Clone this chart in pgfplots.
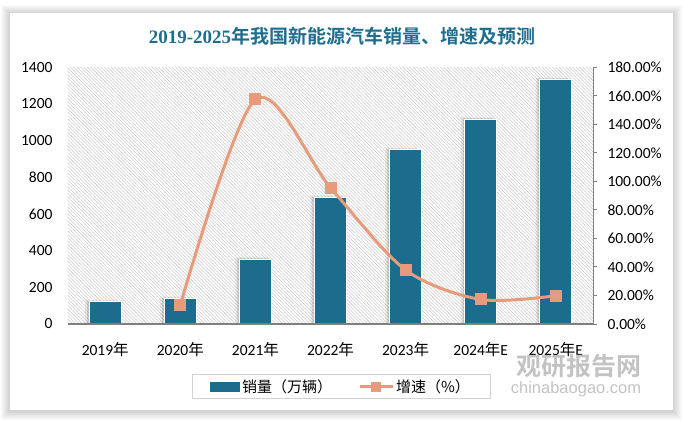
\documentclass[border=0pt]{standalone}
\usepackage{fontspec}
\setmainfont{Carlito}
\newfontfamily\cjk{Noto Sans CJK SC}[BoldFont={Noto Sans CJK SC Bold}]
\newfontfamily\titleserif{Liberation Serif}
\newfontfamily\wmfont{Liberation Sans}
\usepackage{pgfplots}
\pgfplotsset{compat=1.18}
\usetikzlibrary{patterns.meta}
\definecolor{barcol}{HTML}{1C6C8E}
\definecolor{linecol}{HTML}{E89B7A}
\definecolor{titlecol}{HTML}{1F6E8E}
\newcommand\nian{{\cjk 年}}
\begin{document}
\begin{tikzpicture}[x=1bp,y=1bp]
\fill[white] (0,0) rectangle (684,421);
\foreach \k in {1,...,9} {
  \fill[black, opacity=0.018] (10-\k, 11-\k-1) rectangle (672.7+\k, 408.3+\k-1);
}
\fill[white] (10,11) rectangle (672.7,408.3);
\node[titlecol] at (342,384.5) {\fontsize{19bp}{22bp}\selectfont\bfseries{\titleserif 2019-2025}{\cjk 年我国新能源汽车销量、增速及预测}};

\begin{axis}[
  at={(67.7bp,97bp)}, anchor=south west, scale only axis,
  width=525.6bp, height=256.7bp,
  xmin=-0.5, xmax=6.5, ymin=0, ymax=1400,
  ytick={0,200,...,1400},
  xtick={0,...,6},
  xticklabels={2019\nian,2020\nian,2021\nian,2022\nian,2023\nian,2024\nian E,2025\nian E},
  axis x line=bottom, axis y line=left,
  axis on top,
  x axis line style={draw=gray, line width=1.2bp, -},
  y axis line style={draw=none},
  major tick length=0pt, tick style={draw=none},
  /pgf/number format/1000 sep={},
  /pgf/number format/assume math mode=true,
  ticklabel style={font=\fontsize{15.5bp}{18bp}\selectfont, text=black},
  xticklabel style={anchor=center, yshift=-26bp},
  yticklabel style={anchor=east, inner sep=0pt, xshift=-15bp},
  axis background/.style={pattern={Lines[angle=-45,distance=2.4bp,line width=0.55bp]}, pattern color=gray!40},
  legend style={at={(0.52,-0.244)}, anchor=center, legend columns=2,
    draw=gray!35, line width=0.8bp, inner xsep=18bp, inner ysep=3bp,
    font=\cjk\fontsize{15bp}{18bp}\selectfont,
    /tikz/every even column/.append style={column sep=24bp}},
  legend cell align=left,
]
% soft shadows of the bars
\addplot[ybar, bar width=32.3bp, bar shift=-4bp, fill=black, fill opacity=0.07, draw=none, forget plot]
  coordinates {(0,132)(1,148)(2,364)(3,700)(4,961)(5,1127)(6,1344)};
\addplot[ybar, bar width=32.3bp, bar shift=-2bp, fill=black, fill opacity=0.12, draw=none, forget plot]
  coordinates {(0,126)(1,142)(2,358)(3,694)(4,955)(5,1121)(6,1338)};
\addplot[ybar, bar width=32.3bp, fill=barcol, draw=white, line width=1bp,
  legend image code/.code={\fill[barcol] (0bp,-4.5bp) rectangle (29bp,4.5bp);}]
  coordinates {(0,120.6)(1,136.7)(2,352.1)(3,688.7)(4,949.5)(5,1115)(6,1332)};
\addlegendentry{销量（万辆）}
\addlegendimage{legend image code/.code={\draw[linecol, line width=3bp] (0bp,0bp) -- (33bp,0bp); \fill[linecol] (11.5bp,-4.5bp) rectangle (20.5bp,4.5bp);}}
\addlegendentry{增速（\%）}
\end{axis}

\begin{axis}[
  at={(67.7bp,97bp)}, anchor=south west, scale only axis,
  width=525.6bp, height=256.7bp,
  xmin=-0.5, xmax=6.5, ymin=0, ymax=180,
  axis x line=none, axis y line*=right,
  y axis line style={draw=gray, line width=1.2bp, -},
  ytick={0,20,...,180},
  tick align=outside, major tick length=4bp,
  ytick style={draw=gray, line width=1bp},
  /pgf/number format/assume math mode=true,
  yticklabel={\pgfmathprintnumber[fixed,fixed zerofill,precision=2]{\tick}\%},
  ticklabel style={font=\fontsize{15.5bp}{18bp}\selectfont, text=black},
  yticklabel style={anchor=west, inner sep=0pt, xshift=10bp},
]
\addplot[linecol, line width=3bp, smooth, mark=square*, mark size=4.5bp, mark options={solid, fill=linecol}]
  coordinates {(1,13.35)(2,157.6)(3,95.6)(4,37.9)(5,17.2)(6,19.8)};
\end{axis}

\node[gray!55, opacity=0.85] at (578.5,55.2) {\cjk\bfseries\fontsize{25bp}{28bp}\selectfont 观研报告网};
\node[gray!55, opacity=0.85] at (576,32) {\wmfont\fontsize{16.5bp}{19bp}\selectfont chinabaogao.com};
\end{tikzpicture}
\end{document}
